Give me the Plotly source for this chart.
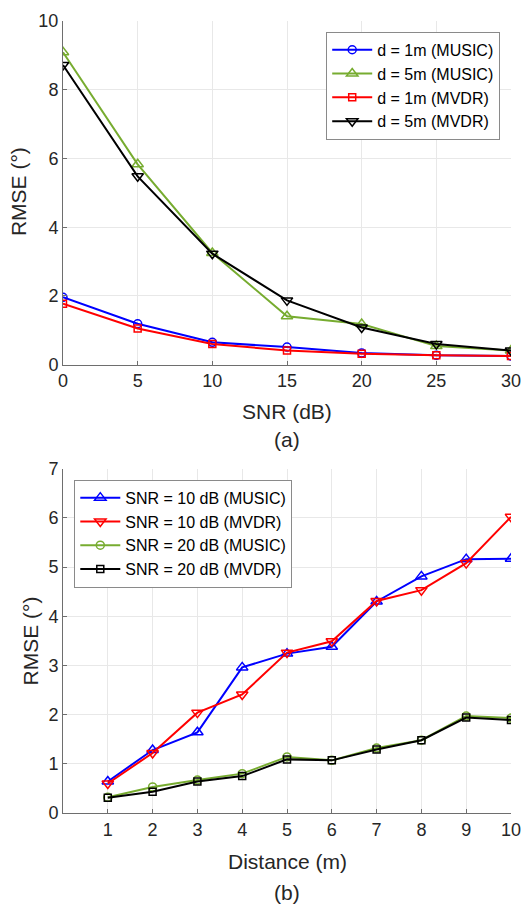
import plotly.graph_objects as go

# ---- Data: panel (a) ----
snr = [0, 5, 10, 15, 20, 25, 30]
a_d1_music = [1.96, 1.19, 0.65, 0.51, 0.34, 0.27, 0.25]
a_d5_music = [9.09, 5.83, 3.25, 1.41, 1.18, 0.54, 0.41]
a_d1_mvdr = [1.77, 1.05, 0.60, 0.41, 0.32, 0.27, 0.25]
a_d5_mvdr = [8.72, 5.48, 3.23, 1.87, 1.08, 0.60, 0.41]

# ---- Data: panel (b) ----
distance = [1, 2, 3, 4, 5, 6, 7, 8, 9, 10]
b_snr10_music = [0.64, 1.28, 1.64, 2.96, 3.24, 3.38, 4.30, 4.81, 5.16, 5.17]
b_snr10_mvdr = [0.60, 1.22, 2.04, 2.41, 3.26, 3.49, 4.31, 4.53, 5.08, 6.02]
b_snr20_music = [0.32, 0.53, 0.67, 0.80, 1.14, 1.07, 1.32, 1.48, 1.97, 1.93]
b_snr20_mvdr = [0.31, 0.43, 0.64, 0.75, 1.09, 1.07, 1.29, 1.48, 1.94, 1.89]

BLUE = "#0000FF"
GREEN = "#77AC30"
RED = "#FF0000"
BLACK = "#000000"
FONT = "Liberation Sans, Arial, sans-serif"
TXT = "#262626"

fig = go.Figure()

def add(x, y, name, color, symbol, size, xa, ya, legend):
    fig.add_trace(go.Scatter(
        x=x, y=y, name=name, mode="lines+markers",
        line=dict(color=color, width=2),
        marker=dict(symbol=symbol, size=size, color=color,
                    line=dict(color=color, width=1.5)),
        xaxis=xa, yaxis=ya, legend=legend,
    ))

add(snr, a_d1_music, "d = 1m (MUSIC)", BLUE, "circle-open", 8, "x", "y", "legend")
add(snr, a_d5_music, "d = 5m (MUSIC)", GREEN, "triangle-up-open", 10, "x", "y", "legend")
add(snr, a_d1_mvdr, "d = 1m (MVDR)", RED, "square-open", 7, "x", "y", "legend")
add(snr, a_d5_mvdr, "d = 5m (MVDR)", BLACK, "triangle-down-open", 10, "x", "y", "legend")

add(distance, b_snr10_music, "SNR = 10 dB (MUSIC)", BLUE, "triangle-up-open", 10, "x2", "y2", "legend2")
add(distance, b_snr10_mvdr, "SNR = 10 dB (MVDR)", RED, "triangle-down-open", 10, "x2", "y2", "legend2")
add(distance, b_snr20_music, "SNR = 20 dB (MUSIC)", GREEN, "circle-open", 8, "x2", "y2", "legend2")
add(distance, b_snr20_mvdr, "SNR = 20 dB (MVDR)", BLACK, "square-open", 7, "x2", "y2", "legend2")

axis_common = dict(
    showline=True, linecolor="#6E6E6E", linewidth=1, mirror=False,
    showgrid=True, gridcolor="#E8E8E8", gridwidth=1,
    ticks="inside", ticklen=4, tickcolor="#6E6E6E", tickwidth=1,
    tickfont=dict(family=FONT, size=18, color=TXT),
    zeroline=False, fixedrange=True,
)

top_dom = [0.5661, 1.0]
bot_dom = [0.0, 0.4348]

legend_common = dict(bgcolor="white", bordercolor="#8A8A8A", borderwidth=1,
                     font=dict(family=FONT, size=16, color="#000000"),
                     tracegroupgap=0, itemwidth=40)

fig.update_layout(
    width=532, height=908,
    margin=dict(l=63, r=13, t=11, b=95),
    paper_bgcolor="white", plot_bgcolor="white",
    font=dict(family=FONT, color=TXT),
    xaxis=dict(axis_common, domain=[0, 1], range=[0, 30], tickvals=[0, 5, 10, 15, 20, 25, 30],
               anchor="y"),
    yaxis=dict(axis_common, domain=top_dom, range=[0, 10], tickvals=[0, 2, 4, 6, 8, 10],
               anchor="x"),
    xaxis2=dict(axis_common, domain=[0, 1], range=[0, 10], tickvals=distance, anchor="y2"),
    yaxis2=dict(axis_common, domain=bot_dom, range=[0, 7], tickvals=[0, 1, 2, 3, 4, 5, 6, 7],
                anchor="x2"),
    showlegend=True,
    legend=dict(legend_common, x=0.9759, y=0.9863, xanchor="right", yanchor="top"),
    legend2=dict(legend_common, x=0.0252, y=0.4208, xanchor="left", yanchor="top"),
)

def px_y(py):
    return (813 - py) / 802.0

def px_x(px):
    return (px - 63) / 456.0

annots = [
    ("SNR (dB)", px_x(291), px_y(406), 0),
    ("(a)", px_x(291), px_y(435), 0),
    ("Distance (m)", px_x(291), px_y(862), 0),
    ("(b)", px_x(291), px_y(893), 0),
    ("RMSE (°)", px_x(18.5), px_y(184), -90),
    ("RMSE (°)", px_x(29.7), px_y(639), -90),
]
for text, x, y, ang in annots:
    fig.add_annotation(text=text, x=x, y=y, xref="paper", yref="paper",
                       xanchor="center", yanchor="middle", showarrow=False,
                       textangle=ang, font=dict(family=FONT, size=21, color=TXT))

fig.write_html("out.html", config={"displayModeBar": False},
               post_script="document.body.style.margin='0';document.body.style.overflow='hidden';")
